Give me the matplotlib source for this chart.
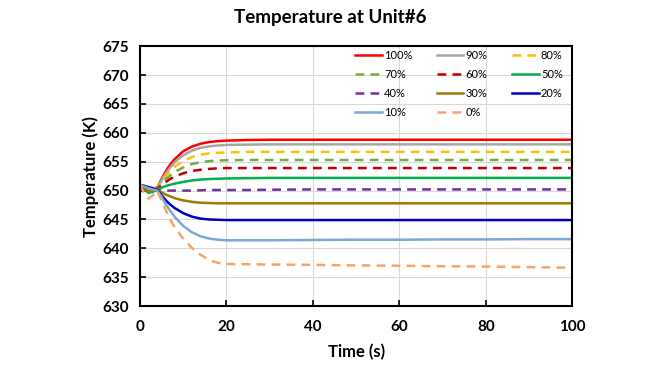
import matplotlib
matplotlib.use("Agg")
import matplotlib.pyplot as plt

plt.rcParams['font.family'] = ['Lato', 'DejaVu Sans']

time_s = [0, 1, 2, 3, 4, 5, 6, 7, 8, 10, 12, 14, 16, 18, 20, 25, 30, 40, 50, 60, 70, 80, 90, 100]

temp_100 = [651.0, 650.8, 650.5, 650.4, 650.5, 652.0, 653.4, 654.5, 655.4, 656.8, 657.6, 658.1, 658.4, 658.55, 658.65,
            658.75, 658.8, 658.8, 658.8, 658.8, 658.8, 658.8, 658.8, 658.8]
temp_90 = [651.0, 650.8, 650.5, 650.4, 650.4, 651.8, 653.0, 654.0, 654.9, 656.1, 656.9, 657.4, 657.65, 657.8, 657.9,
           657.95, 658.0, 658.0, 658.0, 658.0, 658.0, 658.0, 658.0, 658.0]
temp_80 = [651.0, 650.7, 650.4, 650.3, 650.4, 651.5, 652.5, 653.4, 654.1, 655.1, 655.8, 656.2, 656.45, 656.55, 656.6,
           656.7, 656.7, 656.7, 656.7, 656.7, 656.7, 656.7, 656.7, 656.7]
temp_70 = [651.0, 650.6, 650.2, 650.2, 650.3, 651.2, 652.0, 652.6, 653.2, 654.0, 654.6, 654.9, 655.1, 655.2, 655.25,
           655.3, 655.3, 655.3, 655.3, 655.3, 655.3, 655.3, 655.3, 655.3]
temp_60 = [651.0, 650.5, 650.0, 650.1, 650.3, 650.9, 651.5, 652.0, 652.4, 653.0, 653.4, 653.6, 653.75, 653.85, 653.9,
           653.9, 653.9, 653.9, 653.9, 653.9, 653.9, 653.9, 653.9, 653.9]
temp_50 = [651.0, 650.2, 649.6, 649.8, 650.2, 650.5, 650.8, 651.0, 651.2, 651.5, 651.75, 651.9, 652.0, 652.05, 652.1,
           652.15, 652.2, 652.2, 652.2, 652.2, 652.2, 652.2, 652.2, 652.2]
temp_40 = [651.0, 650.3, 649.8, 649.9, 650.1, 650.0, 650.0, 650.0, 650.0, 650.0, 650.0, 650.05, 650.1, 650.1, 650.1,
           650.1, 650.15, 650.2, 650.2, 650.2, 650.2, 650.2, 650.2, 650.2]
temp_30 = [651.0, 650.4, 649.9, 650.0, 650.1, 649.7, 649.3, 649.0, 648.7, 648.3, 648.05, 647.9, 647.85, 647.8, 647.8,
           647.8, 647.8, 647.8, 647.8, 647.8, 647.8, 647.8, 647.8, 647.8]
temp_20 = [651.0, 650.8, 650.6, 650.4, 650.1, 649.2, 648.3, 647.6, 647.0, 646.1, 645.5, 645.15, 645.0, 644.95, 644.9,
           644.9, 644.9, 644.9, 644.9, 644.9, 644.9, 644.9, 644.9, 644.9]
temp_10 = [651.0, 650.7, 650.4, 650.2, 650.0, 648.9, 647.6, 646.5, 645.5, 643.9, 642.8, 642.1, 641.7, 641.5, 641.4,
           641.4, 641.4, 641.45, 641.5, 641.5, 641.55, 641.55, 641.6, 641.6]
temp_0 = [651.0, 649.5, 648.6, 649.2, 650.0, 648.3, 646.6, 645.0, 643.7, 641.7, 640.1, 638.9, 638.0, 637.5, 637.3,
          637.25, 637.2, 637.15, 637.05, 637.0, 636.9, 636.85, 636.75, 636.65]

labels = ['100%', '90%', '80%', '70%', '60%', '50%', '40%', '30%', '20%', '10%', '0%']
series = [temp_100, temp_90, temp_80, temp_70, temp_60, temp_50, temp_40, temp_30, temp_20, temp_10, temp_0]
colors = ['#FF0000', '#A5A5A5', '#FFC000', '#70AD47', '#C00000', '#00B050',
          '#7030A0', '#9C7A00', '#0000C0', '#7BA7D9', '#F4A56A']
dashed = [False, False, True, True, True, False, True, False, False, False, True]

fig = plt.figure(figsize=(6.6, 3.72), dpi=100)
ax = fig.add_axes([0.212, 0.177, 0.655, 0.699])

handles = []
for lab, vals, col, dsh in zip(labels, series, colors, dashed):
    if dsh:
        h, = ax.plot(time_s, vals, color=col, lw=1.8, ls=(0, (3.5, 2.5)), label=lab)
    else:
        h, = ax.plot(time_s, vals, color=col, lw=1.8, label=lab)
    handles.append(h)

ax.set_xlim(0, 100)
ax.set_ylim(630, 675)
ax.set_xticks(range(0, 101, 20))
ax.set_yticks(range(630, 676, 5))
ax.grid(True, color='#D9D9D9', lw=0.8)
ax.set_axisbelow(True)
for s in ax.spines.values():
    s.set_linewidth(1.5)
    s.set_color('black')
ax.tick_params(direction='in', length=4, width=1.2, labelsize=11)
ax.tick_params(axis='x', pad=10)
ax.tick_params(axis='y', pad=8)
for t in ax.get_xticklabels() + ax.get_yticklabels():
    t.set_fontweight('bold')

ax.set_xlabel('Time (s)', fontsize=12, fontweight='bold', labelpad=7)
ax.set_ylabel('Temperature (K)', fontsize=12, fontweight='bold', labelpad=2)
fig.suptitle('Temperature at Unit#6', fontsize=13.5, fontweight='bold', x=0.5, y=0.975, va='top')

# excel lays the legend out row by row, matplotlib fills columns first
order = [0, 3, 6, 9, 1, 4, 7, 10, 2, 5, 8]
ax.legend([handles[i] for i in order], [labels[i] for i in order], ncol=3, loc='upper left',
          bbox_to_anchor=((355 - 140) / 432, 0.985), borderaxespad=0, borderpad=0,
          frameon=False, fontsize=8, handlelength=2.4, handletextpad=0.2,
          columnspacing=2.2, labelspacing=0.72)

fig.savefig('out.png', dpi=100)
